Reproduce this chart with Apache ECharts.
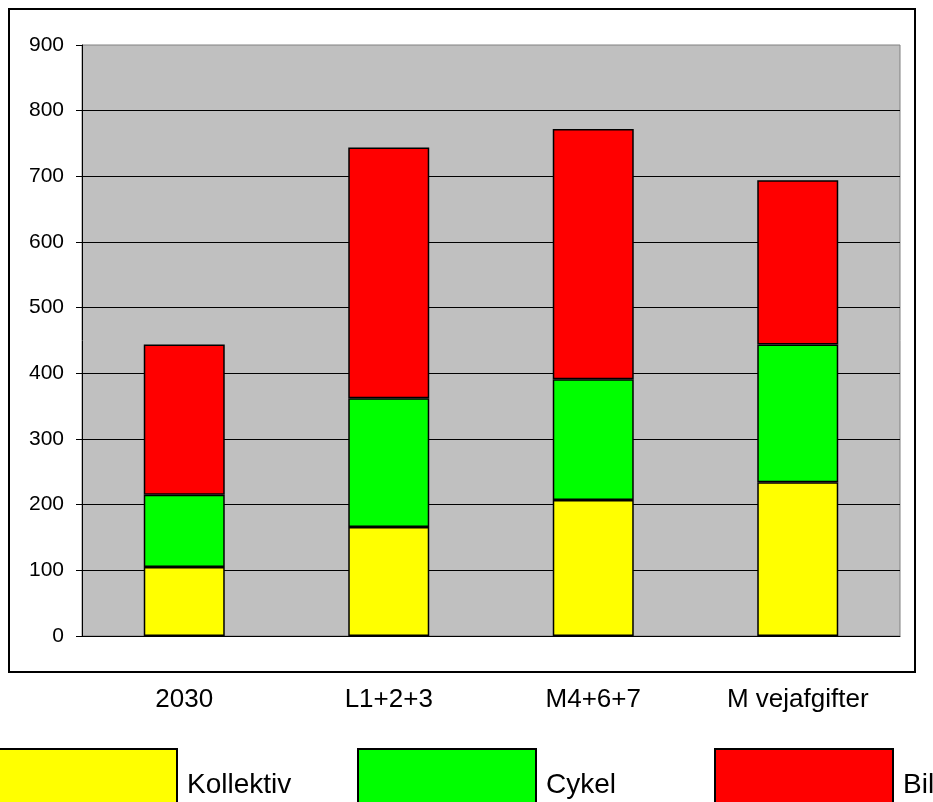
<!DOCTYPE html>
<html>
<head>
<meta charset="utf-8">
<script src="https://cdn.jsdelivr.net/npm/echarts@6/dist/echarts.min.js"></script>
<style>
html,body{margin:0;padding:0;background:#fff;}
#c{width:933px;height:802px;}
</style>
</head>
<body>
<div id="c"></div>
<script>
var categories = ['2030', 'L1+2+3', 'M4+6+7', 'M vejafgifter'];
var kollektiv = [105, 166, 207, 234];
var cykel = [110, 196, 184, 210];
var bil = [229, 382, 381, 250];
var seriesNames = ['Kollektiv', 'Cykel', 'Bil'];
var seriesColors = ['#ffff00', '#00ff00', '#ff0000'];
var yMin = 0, yMax = 900, yStep = 100;

var FONT = "'Liberation Sans', Arial, sans-serif";
var chart = echarts.init(document.getElementById('c'), null, {renderer: 'canvas'});
var dataSets = [kollektiv, cykel, bil];
var legendLefts = [-2, 357, 714];

var option = {
  backgroundColor: '#ffffff',
  animation: false,
  textStyle: {fontFamily: FONT, color: '#000'},
  graphic: [{
    type: 'rect',
    shape: {x: 9, y: 9, width: 906, height: 663},
    style: {fill: 'none', stroke: '#000', lineWidth: 2},
    z: -1
  }],
  grid: {
    left: 82, right: 33, top: 45, bottom: 166,
    show: true, backgroundColor: '#c0c0c0', borderColor: '#808080', borderWidth: 1
  },
  legend: seriesNames.map(function (n, i) {
    return {
      data: [n], left: legendLefts[i], top: 748, padding: 0,
      icon: 'rect', itemWidth: 178, itemHeight: 72,
      itemStyle: {borderColor: '#000', borderWidth: 2},
      textStyle: {fontSize: 28, fontFamily: FONT, color: '#000', padding: [0, 0, 0, 5]},
      selectedMode: false
    };
  }),
  xAxis: {
    type: 'category',
    data: categories,
    axisLine: {lineStyle: {color: '#000', width: 1}},
    axisTick: {show: false},
    axisLabel: {fontSize: 26, fontFamily: FONT, color: '#000', margin: 51}
  },
  yAxis: {
    type: 'value', min: yMin, max: yMax, interval: yStep,
    axisLine: {show: true, lineStyle: {color: '#000', width: 1}},
    axisTick: {show: true, length: 6, lineStyle: {color: '#000'}},
    axisLabel: {fontSize: 21, fontFamily: FONT, color: '#000', margin: 18},
    splitLine: {show: true, showMaxLine: false, lineStyle: {color: '#000', width: 1}}
  },
  series: seriesNames.map(function (n, i) {
    return {
      name: n, type: 'bar', stack: 'total', data: dataSets[i],
      barWidth: '39.6%',
      itemStyle: {color: seriesColors[i], borderColor: '#000', borderWidth: 1.5},
      emphasis: {disabled: true}
    };
  })
};
chart.setOption(option);
</script>
</body>
</html>
